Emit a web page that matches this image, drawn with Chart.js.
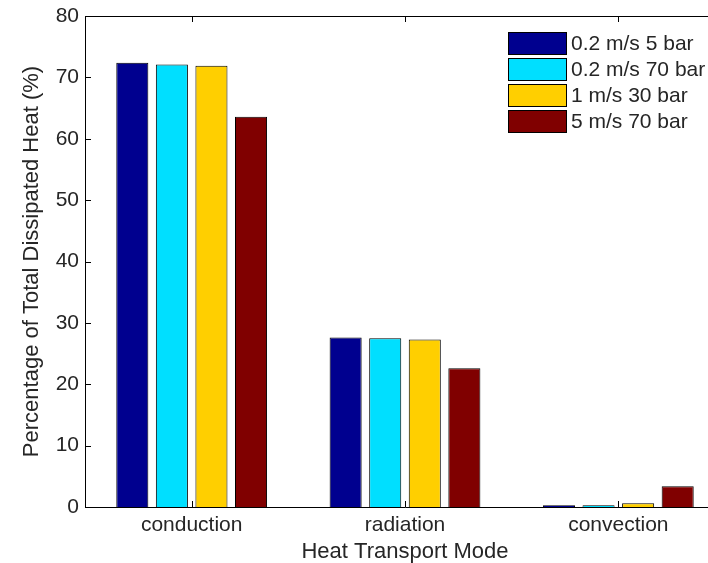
<!DOCTYPE html>
<html>
<head>
<meta charset="utf-8">
<script src="https://cdn.jsdelivr.net/npm/chart.js@4.4.1/dist/chart.umd.min.js"></script>
<style>
  html, body { margin: 0; padding: 0; background: #fff; overflow: hidden; }
  #corte { width: 708px; height: 563px; overflow: hidden; }
  #wrap { width: 780px; height: 563px; position: relative; }
</style>
</head>
<body>
<div id="corte"><div id="wrap"><canvas id="grafico"></canvas></div></div>
<script>
// ── Dados ──
const modos      = ['conduction', 'radiation', 'convection'];
const series     = ['0.2 m/s 5 bar', '0.2 m/s 70 bar', '1 m/s 30 bar', '5 m/s 70 bar'];
const v02_5bar   = [72.4, 27.6, 0.3];
const v02_70bar  = [72.1, 27.5, 0.3];
const v1_30bar   = [71.9, 27.3, 0.6];
const v5_70bar   = [63.6, 22.6, 3.4];
const yTicks     = [0, 10, 20, 30, 40, 50, 60, 70, 80];

// ── Cores (jet) ──
const CORES = ['#00008F', '#00DFFF', '#FFCF00', '#800000'];
const TEXTO = '#262626';
const FONTE = "Arial, 'Liberation Sans', sans-serif";

Chart.defaults.font.family = FONTE;
Chart.defaults.color = TEXTO;

// eixos + ticks para dentro, estilo MATLAB (lado direito fica fora da imagem)
const eixosMatlab = {
  id: 'eixosMatlab',
  afterDraw(chart) {
    const { ctx, chartArea: a, scales } = chart;
    ctx.save();
    ctx.strokeStyle = '#000';
    ctx.lineWidth = 1;
    ctx.beginPath();
    ctx.moveTo(a.right, a.top + 0.5);
    ctx.lineTo(a.left + 0.5, a.top + 0.5);
    ctx.lineTo(a.left + 0.5, a.bottom + 0.5);
    ctx.lineTo(a.right, a.bottom + 0.5);
    const L = 6;
    yTicks.forEach(v => {
      const y = Math.round(scales.y.getPixelForValue(v)) + 0.5;
      ctx.moveTo(a.left, y); ctx.lineTo(a.left + L, y);
    });
    modos.forEach((m, i) => {
      const x = Math.round(scales.x.getPixelForValue(i)) + 0.5;
      ctx.moveTo(x, a.bottom); ctx.lineTo(x, a.bottom - L);
      ctx.moveTo(x, a.top); ctx.lineTo(x, a.top + L);
    });
    ctx.stroke();
    ctx.restore();
  }
};

// legenda dentro do gráfico, canto superior direito
const legendaInterna = {
  id: 'legendaInterna',
  afterDraw(chart) {
    const { ctx } = chart;
    const x0 = 508, y0 = 32, passo = 26, w = 58, h = 22;
    ctx.save();
    ctx.font = '21px ' + FONTE;
    ctx.textBaseline = 'middle';
    chart.data.datasets.forEach((ds, i) => {
      const y = y0 + i * passo;
      ctx.fillStyle = ds.backgroundColor;
      ctx.fillRect(x0, y, w, h);
      ctx.strokeStyle = '#000';
      ctx.strokeRect(x0 + 0.5, y + 0.5, w, h);
      ctx.fillStyle = TEXTO;
      ctx.fillText(ds.label, x0 + w + 5, y + h / 2 + 1);
    });
    ctx.restore();
  }
};

const valores = [v02_5bar, v02_70bar, v1_30bar, v5_70bar];

new Chart(document.getElementById('grafico'), {
  type: 'bar',
  data: {
    labels: modos,
    datasets: series.map((nome, i) => ({
      label: nome,
      data: valores[i],
      backgroundColor: CORES[i],
      borderColor: '#000',
      borderWidth: 1,
      barPercentage: 0.81,
      categoryPercentage: 0.742
    }))
  },
  options: {
    responsive: true,
    maintainAspectRatio: false,
    animation: false,
    layout: { padding: { top: 16, right: 55, left: 0, bottom: 0 } },
    plugins: {
      legend: { display: false },
      tooltip: { enabled: false }
    },
    scales: {
      x: {
        grid: { display: false, drawTicks: false },
        border: { display: false },
        ticks: { font: { size: 21 }, color: TEXTO, padding: 6 },
        title: {
          display: true,
          text: 'Heat Transport Mode',
          font: { size: 22, lineHeight: 1 },
          color: TEXTO,
          padding: { top: 0, bottom: 0 }
        },
        afterFit(s) { s.height = 56; s.paddingLeft = 0; s.paddingRight = 0; }
      },
      y: {
        min: 0,
        max: 80,
        afterBuildTicks(s) { s.ticks = yTicks.map(v => ({ value: v })); },
        grid: { display: false, drawTicks: false },
        border: { display: false },
        ticks: { font: { size: 21 }, color: TEXTO, padding: 6 },
        title: {
          display: true,
          text: 'Percentage of Total Dissipated Heat (%)',
          font: { size: 22 },
          color: TEXTO,
          padding: { top: 19, bottom: 0 }
        },
        afterFit(s) { s.width = 85; s.paddingTop = 0; s.paddingBottom = 0; }
      }
    }
  },
  plugins: [eixosMatlab, legendaInterna]
});
</script>
</body>
</html>
